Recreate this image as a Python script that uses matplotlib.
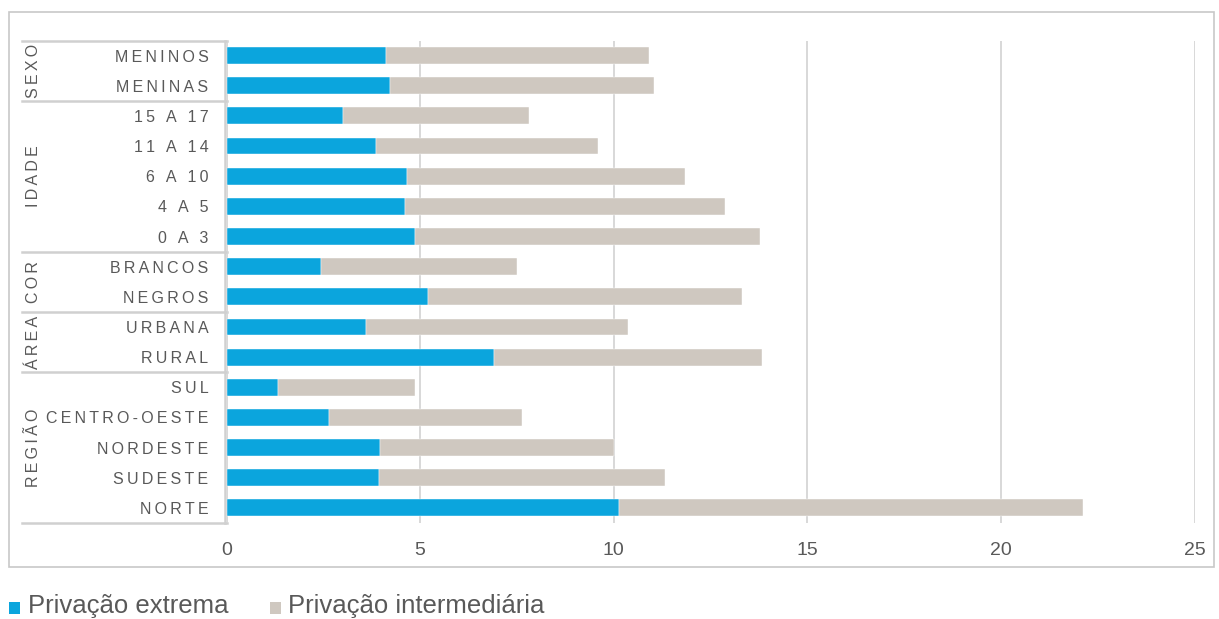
import matplotlib
matplotlib.use("Agg")
import matplotlib.pyplot as plt
from matplotlib.lines import Line2D
from matplotlib.patches import Rectangle

plt.rcParams['font.family'] = ['Liberation Sans', 'DejaVu Sans']

categories = ["MENINOS", "MENINAS", "15 A 17", "11 A 14", "6 A 10", "4 A 5", "0 A 3",
              "BRANCOS", "NEGROS", "URBANA", "RURAL", "SUL", "CENTRO-OESTE",
              "NORDESTE", "SUDESTE", "NORTE"]
groups = ["SEXO", "IDADE", "COR", "ÁREA", "REGIÃO"]
group_sizes = [2, 5, 2, 2, 5]
privacao_extrema = [4.12, 4.22, 3.02, 3.86, 4.65, 4.62, 4.87, 2.45, 5.21, 3.60, 6.91,
                    1.34, 2.64, 3.96, 3.93, 10.14]
privacao_intermediaria = [6.78, 6.82, 4.78, 5.73, 7.18, 8.26, 8.90, 5.04, 8.09, 6.76, 6.91,
                          3.54, 4.98, 6.05, 7.40, 11.97]
x_ticks = [0, 5, 10, 15, 20, 25]
legend_labels = ["Privação extrema", "Privação intermediária"]

BLUE = "#0BA5DD"
BEIGE = "#CFC8C0"
TXT = "#595959"
LINE = "#D0D0D0"

W, H = 1219, 619
fig = plt.figure(figsize=(W / 100, H / 100), dpi=100)

def fx(px):
    return px / W

def fy(py):
    return 1 - py / H

AX_L, AX_R = 226.5, 1194.7
ax = fig.add_axes([fx(AX_L), fy(523), fx(AX_R) - fx(AX_L), fy(40.5) - fy(523)])

def ax_x(px):
    return (px - AX_L) / (AX_R - AX_L)

def spaced(s):
    return "\u2009".join(list(s))

y = list(range(len(categories)))
ax.barh(y, privacao_extrema, height=0.56, color=BLUE, edgecolor="white", linewidth=0.3, zorder=3)
ax.barh(y, privacao_intermediaria, left=privacao_extrema, height=0.56, color=BEIGE,
        edgecolor="white", linewidth=0.3, zorder=3)

ax.set_xlim(0, 25)
ax.set_ylim(len(categories) - 0.5, -0.5)
ax.set_xticks(x_ticks)
ax.set_xticklabels([str(t) for t in x_ticks], fontsize=14, color=TXT)
ax.set_yticks(y)
ax.set_yticklabels([spaced(c) for c in categories], fontsize=11.5, color=TXT)
ax.tick_params(axis="x", length=0, pad=14)
ax.tick_params(axis="y", length=0, pad=13)
ax.grid(axis="x", color="#D6D6D6", linewidth=1.3, zorder=0)
for s in ax.spines.values():
    s.set_visible(False)

# Table lines on the left
trans = ax.get_yaxis_transform()
bounds = [-0.5]
acc = -0.5
for g in group_sizes:
    acc += g
    bounds.append(acc)
for b in bounds:
    ax.add_line(Line2D([ax_x(22), 0], [b, b], transform=trans, color=LINE,
                       linewidth=1.8, clip_on=False, zorder=1))
ax.add_line(Line2D([-0.0015, -0.0015], [-0.5, len(categories) - 0.5], transform=trans,
                   color=LINE, linewidth=1.8, clip_on=False, zorder=1))

# Group labels
start = -0.5
for g, n in zip(groups, group_sizes):
    mid = start + n / 2
    ax.text(ax_x(33), mid, spaced(g), transform=trans, rotation=90, ha="center",
            va="center", fontsize=11.5, color=TXT)
    start += n

# Outer border
fig.add_artist(Rectangle((fx(9), fy(567)), fx(1214) - fx(9), fy(12) - fy(567),
                         transform=fig.transFigure, fill=False, edgecolor="#C8C8C8",
                         linewidth=1.2))

# Legend
fig.add_artist(Rectangle((fx(9), fy(614)), fx(11), fy(602) - fy(614),
                         transform=fig.transFigure, facecolor=BLUE, edgecolor="none"))
fig.text(fx(28), fy(606.5), legend_labels[0], fontsize=18.5, color=TXT, ha="left", va="center")
fig.add_artist(Rectangle((fx(270), fy(614)), fx(11), fy(602) - fy(614),
                         transform=fig.transFigure, facecolor=BEIGE, edgecolor="none"))
fig.text(fx(288), fy(606.5), legend_labels[1], fontsize=18.5, color=TXT, ha="left", va="center")

fig.savefig("out.png", dpi=100)
